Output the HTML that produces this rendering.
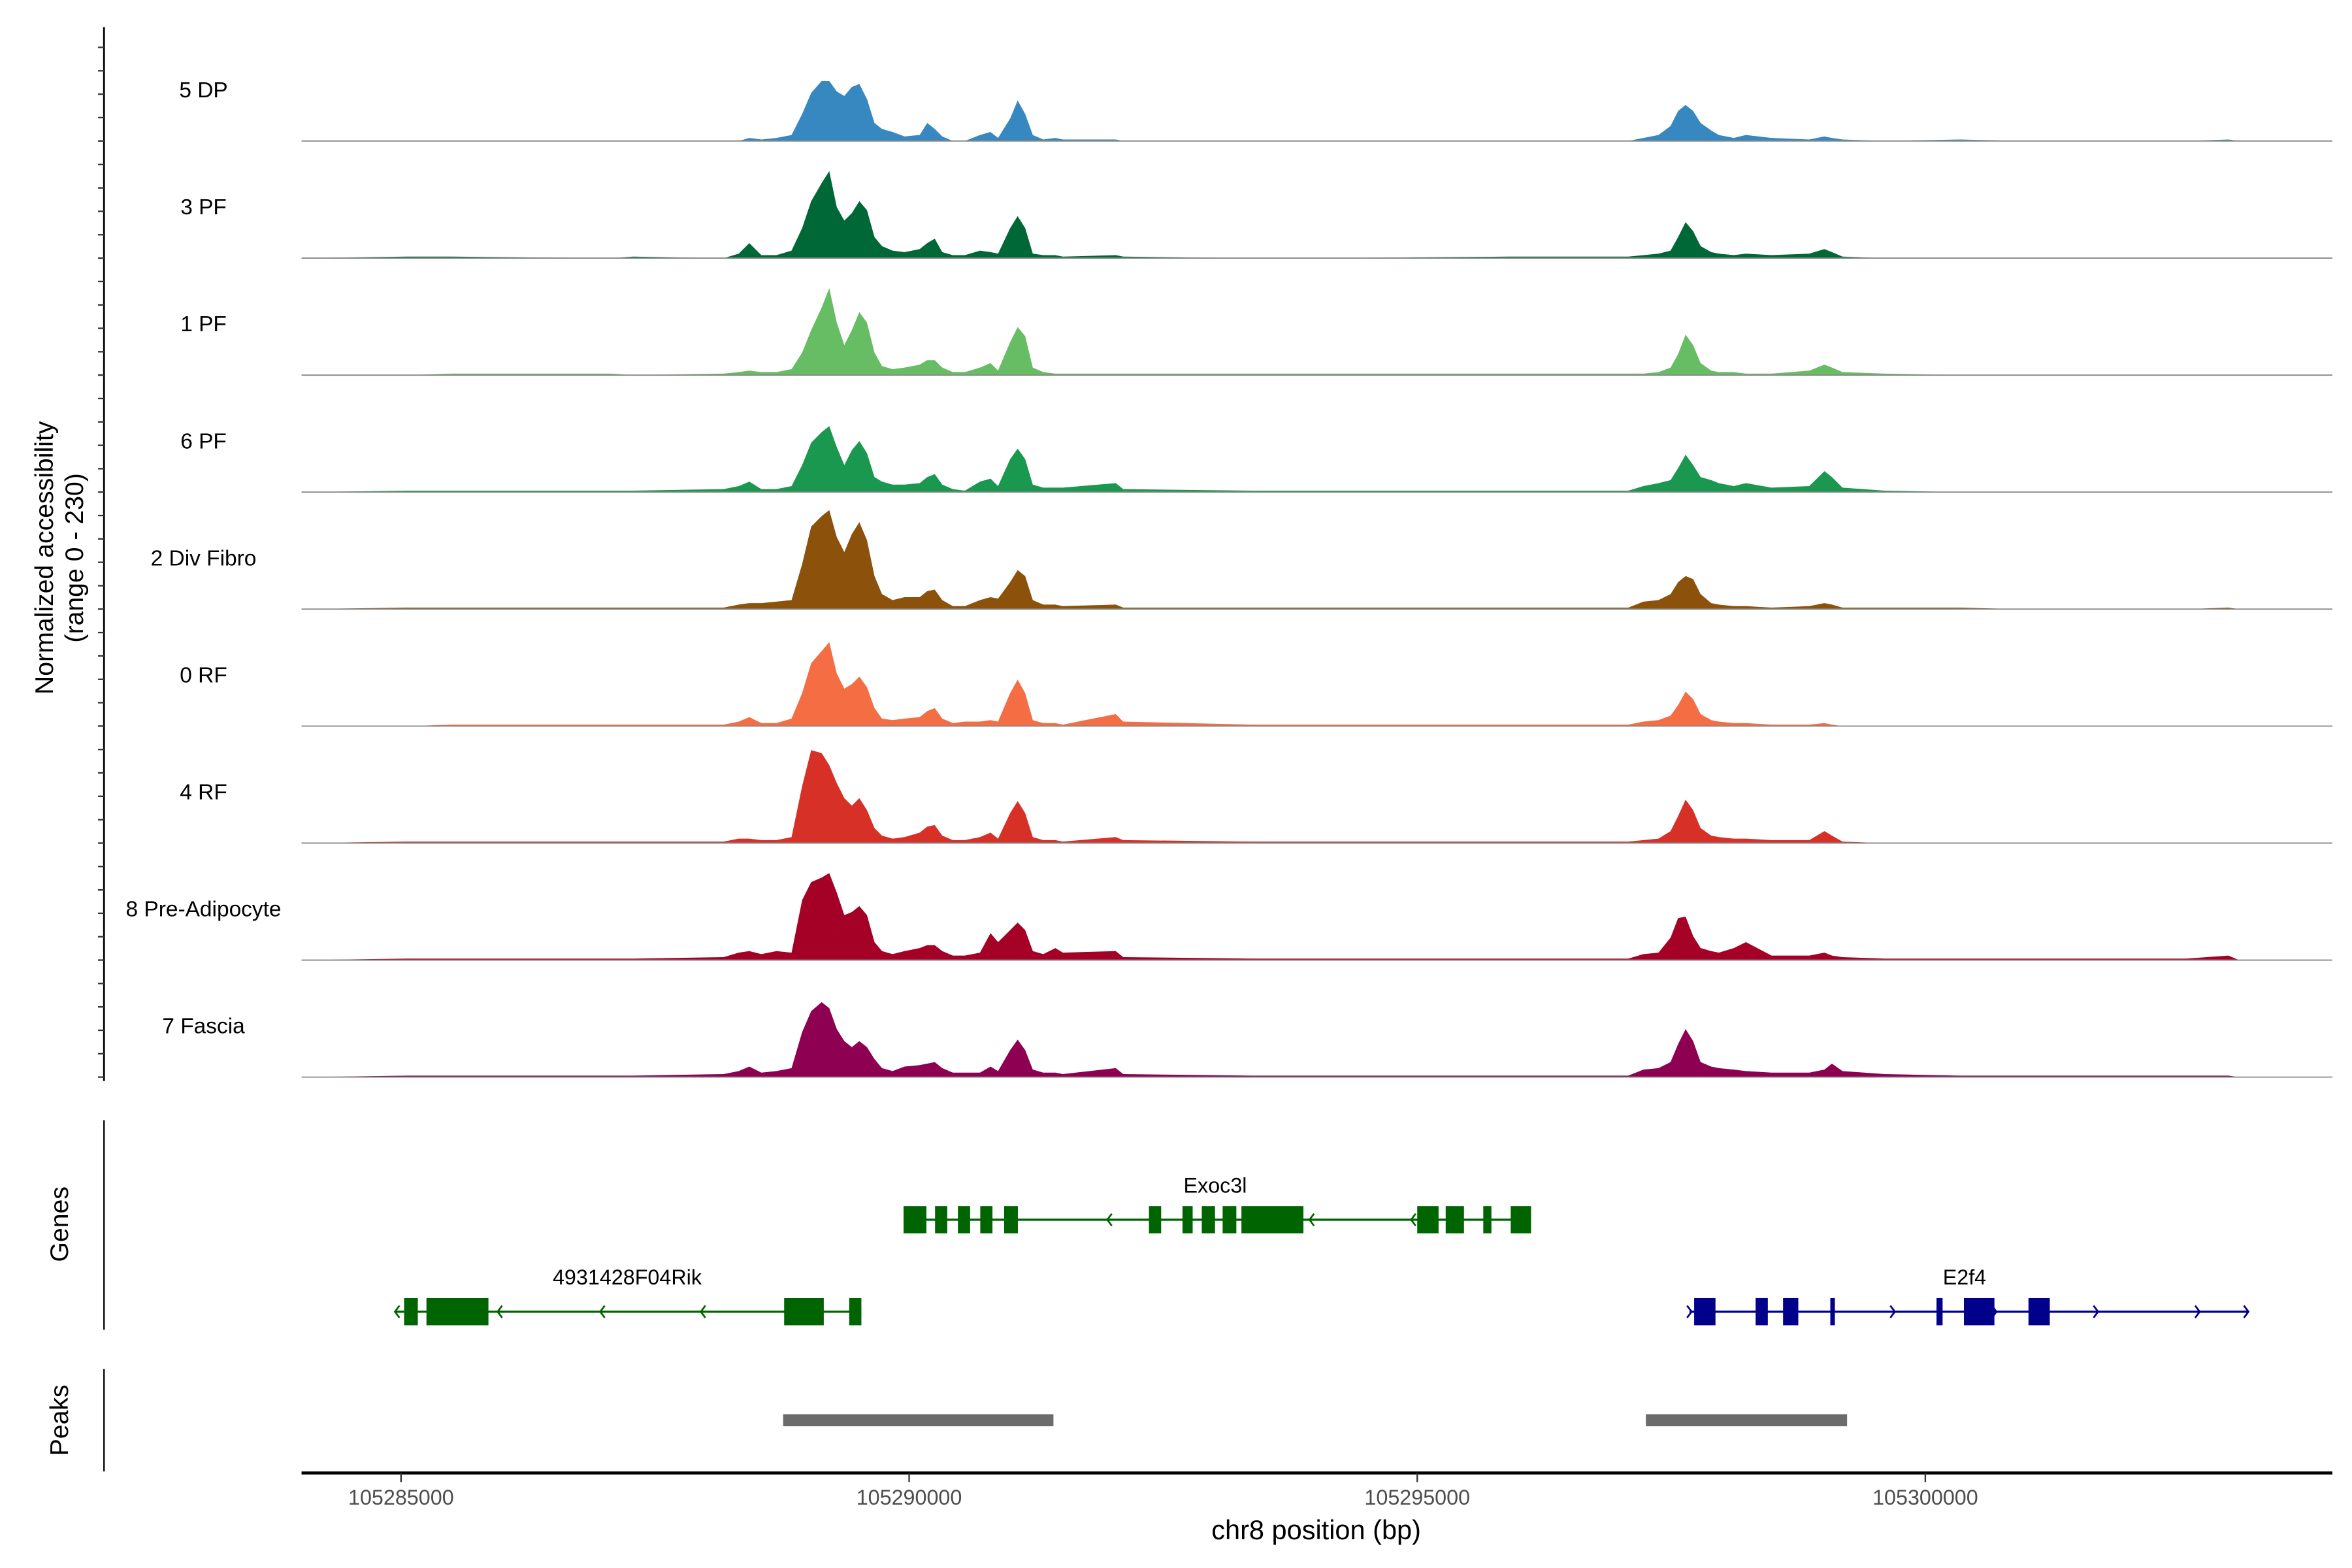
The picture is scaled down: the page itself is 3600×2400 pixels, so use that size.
<!DOCTYPE html>
<html><head><meta charset="utf-8"><style>
html,body{margin:0;padding:0;background:#fff}
svg{display:block}
text{font-family:"Liberation Sans",sans-serif}
</style></head><body>
<svg id="chart" width="3600" height="2400" viewBox="0 0 1560 1040" xmlns="http://www.w3.org/2000/svg">
<g id="tracks"></g>
<g id="yaxis"></g>
<text transform="translate(35,370) rotate(-90)" text-anchor="middle" font-size="17">Normalized accessibility</text>
<text transform="translate(55,370) rotate(-90)" text-anchor="middle" font-size="17">(range 0 - 230)</text>
<g id="genes"></g>
<line x1="69" y1="743" x2="69" y2="882" stroke="#000" stroke-width="1"/>
<text transform="translate(45,812) rotate(-90)" text-anchor="middle" font-size="17">Genes</text>
<line x1="69" y1="908" x2="69" y2="976" stroke="#000" stroke-width="1"/>
<text transform="translate(45,942) rotate(-90)" text-anchor="middle" font-size="17">Peaks</text>
<g id="peaks"></g>
<g id="xaxis"></g>
<text x="873" y="1021" text-anchor="middle" font-size="18">chr8 position (bp)</text>
</svg>
<script>
const positions=[105284021,105285059,105285504,105287062,105287285,105288175,105288323,105288427,105288546,105288694,105288843,105288947,105289036,105289139,105289214,105289288,105289362,105289436,105289510,105289585,105289659,105289733,105289837,105289955,105290104,105290178,105290252,105290326,105290430,105290549,105290697,105290801,105290875,105290994,105291068,105291142,105291217,105291320,105291439,105291513,105292033,105292107,105293368,105293962,105295890,105297077,105297226,105297374,105297493,105297567,105297641,105297715,105297789,105297893,105297968,105298116,105298235,105298487,105298858,105299007,105299081,105299185,105299600,105300342,105300935,105301232,105301603,105302567,105302983,105303087,105304006];
const trackNames=["5 DP","3 PF","1 PF","6 PF","2 Div Fibro","0 RF","4 RF","8 Pre-Adipocyte","7 Fascia"];
const trackColors=["#3787c0","#006837","#66bd63","#1a9850","#8c510a","#f46d43","#d73027","#a50026","#8e0152"];
const dp5=[0,0,0,0,0,0,0,2,1,2,4,18,32,40,40,33,30,36,38,28,12,8,6,3,4,12,8,3,0,0,4,6,2,15,27,18,4,1,2,1,1,0,0,0,0,0,2,4,10,20,24,20,12,7,4,2,4,2,1,3,2,1,0,1,0,0,0,0,1,0,0];
const pf3=[0,1,1,0,1,0,3,10,2,2,5,20,38,50,58,34,25,30,38,32,14,8,5,4,6,10,13,4,2,2,5,4,3,20,28,20,3,2,2,1,2,1,0,0,1,1,2,3,5,14,24,18,8,4,3,2,3,2,3,6,4,1,0,0,0,0,0,0,0,0,0];
const pf1=[0,0,1,1,0,1,2,3,2,2,4,15,30,45,58,35,20,30,42,35,15,6,4,5,7,10,10,5,2,2,5,8,3,22,32,26,5,2,1,1,1,1,1,1,1,1,1,2,5,14,27,20,8,3,2,2,1,1,3,7,5,2,1,0,0,0,0,0,0,0,0];
const pf6=[0,1,1,1,1,2,4,7,2,2,4,18,33,40,44,30,18,28,34,26,10,7,5,5,6,10,12,5,2,1,7,9,4,22,29,22,5,3,3,3,6,2,1,1,1,1,4,6,8,16,25,18,10,8,6,4,6,3,4,14,10,3,1,0,0,0,0,0,0,0,0];
const divFibro2=[0,1,1,1,1,1,3,4,4,5,6,30,55,62,66,48,38,50,58,46,22,10,6,8,8,12,13,6,2,2,6,8,7,18,26,22,6,3,3,2,3,1,1,1,1,1,5,6,10,18,22,20,10,4,3,2,2,1,2,4,3,1,1,1,0,0,0,0,1,0,0];
const rf0=[0,0,1,1,1,1,3,6,2,2,5,22,42,50,56,35,25,28,33,26,12,5,4,5,6,10,12,5,2,3,3,4,3,22,31,22,4,2,2,1,8,3,1,1,1,1,3,4,7,14,23,18,8,4,3,2,2,1,1,2,1,0,0,0,0,0,0,0,0,0,0];
const rf4=[0,1,1,1,1,1,3,3,2,2,4,38,62,60,52,40,30,25,30,22,10,5,3,4,7,11,12,5,2,2,4,7,3,20,28,20,4,2,2,1,4,2,1,1,1,1,2,3,8,18,29,22,10,5,4,3,3,2,2,8,5,1,0,0,0,0,0,0,0,0,0];
const preAdipo8=[0,1,1,1,1,2,5,6,4,6,5,40,52,55,58,45,30,32,36,30,12,6,4,6,8,10,10,6,3,3,5,18,12,20,25,20,6,4,8,5,6,2,1,1,1,1,4,5,15,28,29,16,8,6,5,8,12,3,3,5,3,2,1,1,1,1,1,1,3,0,0];
const fascia7=[0,1,1,1,1,2,4,7,3,4,6,30,44,50,46,32,24,20,24,20,12,6,4,7,8,9,10,6,3,3,3,7,4,18,25,18,5,3,3,2,6,2,1,1,1,1,5,6,10,22,32,24,10,7,6,5,4,3,3,5,9,4,2,1,1,1,1,1,1,0,0];
const trackValues=[dp5,pf3,pf1,pf6,divFibro2,rf0,rf4,preAdipo8,fascia7];
const xTicks=[105285000,105290000,105295000,105300000];
const xTickLabels=["105285000","105290000","105295000","105300000"];
const exoc3lExons=[[105289945,105290170],[105290255,105290375],[105290480,105290600],[105290700,105290820],[105290935,105291070],[105292360,105292480],[105292690,105292790],[105292880,105293010],[105293085,105293220],[105293270,105293880],[105295000,105295210],[105295280,105295460],[105295650,105295730],[105295920,105296120]];
const exoc3lSpan=[105289945,105296120];
const exoc3lArrows=[105291950,105293940,105294940];
const rikExons=[[105285030,105285165],[105285250,105285860],[105288770,105289160],[105289410,105289530]];
const rikSpan=[105284940,105289530];
const rikArrows=[105284940,105285950,105286960,105287950];
const e2f4Exons=[[105297725,105297935],[105298330,105298450],[105298600,105298750],[105299065,105299110],[105300110,105300170],[105300380,105300680],[105301015,105301225]];
const e2f4Span=[105297680,105303180];
const e2f4Arrows=[105297700,105299700,105300700,105301700,105302700,105303180];
const peakRanges=[[105288760,105291420],[105297250,105299230]];

const NS="http://www.w3.org/2000/svg";
const xScale=bp=>266+(bp-105285000)*337/5000;
const baselines=[93.5,171.2,248.8,326.4,404,481.6,559.2,636.8,714.4];
const trackH=77.6, yDomainMax=78;
function mk(tag,attrs,parent){const e=document.createElementNS(NS,tag);for(const k in attrs)e.setAttribute(k,attrs[k]);parent.appendChild(e);return e;}
const gT=document.getElementById('tracks');
trackValues.forEach((vals,i)=>{
  const b=baselines[i];
  const yS=v=>b-v/yDomainMax*trackH;
  let d="M"+xScale(positions[0])+","+b;
  vals.forEach((v,j)=>{d+=" L"+xScale(positions[j]).toFixed(2)+","+yS(v).toFixed(2);});
  d+=" L"+xScale(positions[positions.length-1])+","+b+" Z";
  const p=mk('path',{d:d,fill:trackColors[i]},gT);
  
  
  const l=mk('line',{x1:200,x2:1547,y1:b,y2:b,stroke:'#888',"stroke-width":0.8},gT);
  
  
  const t=mk('text',{x:135,y:b-29,"text-anchor":"middle","font-size":14.5},gT);
  t.textContent=trackNames[i];
  
  
});
const gY=document.getElementById('yaxis');
const ya=mk('line',{x1:69,x2:69,y1:18,y2:717,stroke:'#000',"stroke-width":1.2},gY);


baselines.forEach(b=>{for(let k=0;k<5;k++){const y=b-k*trackH/5;const tk=mk('line',{x1:65,x2:69,y1:y,y2:y,stroke:'#333',"stroke-width":1},gY);

}});
const gG=document.getElementById('genes');
function gene(name,exons,span,arrows,y,color,dir,labelX,labelY){
  const g=mk('g',{},gG);
  
  
  mk('line',{x1:xScale(span[0]),x2:xScale(span[1]),y1:y,y2:y,stroke:color,"stroke-width":1.5},g);
  arrows.forEach(a=>{const x=xScale(a);const dx=dir<0?3:-3;mk('path',{d:`M${x+dx},${y-4} L${x},${y} L${x+dx},${y+4}`,fill:'none',stroke:color,"stroke-width":1.2},g);});
  exons.forEach(e=>{const r=mk('rect',{x:xScale(e[0]),y:y-9,width:Math.max(1.5,xScale(e[1])-xScale(e[0])),height:18,fill:color},g);
  
  });
  const t=mk('text',{x:labelX,y:labelY,"text-anchor":"middle","font-size":14},g);t.textContent=name;
  
  
}
gene('Exoc3l',exoc3lExons,exoc3lSpan,exoc3lArrows,809,'#006400',-1,806,791);
gene('4931428F04Rik',rikExons,rikSpan,rikArrows,870,'#006400',-1,416,852);
gene('E2f4',e2f4Exons,e2f4Span,e2f4Arrows,870,'#00008b',1,1303,852);
const gP=document.getElementById('peaks');
peakRanges.forEach(r=>{const rc=mk('rect',{x:xScale(r[0]),y:938,width:xScale(r[1])-xScale(r[0]),height:8,fill:'#6b6b6b'},gP);

});
const gX=document.getElementById('xaxis');
const xl=mk('line',{x1:200,x2:1547,y1:977,y2:977,stroke:'#000',"stroke-width":2},gX);


xTicks.forEach((v,i)=>{const x=xScale(v);
const tk=mk('line',{x1:x,x2:x,y1:977,y2:983,stroke:'#333',"stroke-width":1},gX);


const t=mk('text',{x:x,y:998,"text-anchor":"middle","font-size":14,fill:'#4d4d4d'},gX);t.textContent=xTickLabels[i];

});
</script>
</body></html>
